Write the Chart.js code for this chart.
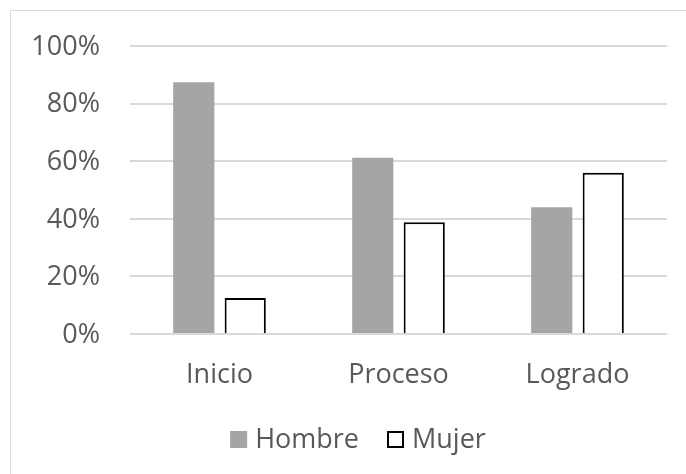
<!DOCTYPE html>
<html>
<head>
<meta charset="utf-8">
<script src="https://cdn.jsdelivr.net/npm/chart.js@4/dist/chart.umd.min.js"></script>
<style>
  html, body { margin: 0; padding: 0; background: #ffffff; overflow: hidden; }
  #frame {
    position: absolute; left: 10px; top: 10px; width: 720px; height: 520px;
    border: 1.5px solid #d9d9d9; box-sizing: border-box;
  }
  #wrap { position: absolute; left: 0; top: 0; width: 686px; height: 474px; }
</style>
</head>
<body>
<div id="frame"></div>
<div id="wrap"><canvas id="c" width="686" height="474"></canvas></div>
<script>
const categories = ["Inicio", "Proceso", "Logrado"];
const hombre = [87.5, 61.2, 44.0];
const mujer = [12.5, 38.8, 56.0];
const yTicks = [0, 20, 40, 60, 80, 100];

const textColor = "#595959";
const fontFamily = "'Open Sans', 'Noto Sans', sans-serif";
const fontSize = 27;

// Legend drawn below the plot: square swatch followed by the series name
const legendPlugin = {
  id: "swatchLegend",
  afterDraw(chart) {
    const ctx = chart.ctx;
    const box = 17, gapText = 8, gapItem = 28;
    const centerX = 358, boxTop = 431, baseline = 448;
    ctx.save();
    ctx.font = `${fontSize}px ${fontFamily}`;
    const items = chart.data.datasets.map(ds => ({
      ds, w: ctx.measureText(ds.label).width
    }));
    const total = items.reduce((s, it) => s + box + gapText + it.w, 0) + gapItem * (items.length - 1);
    let x = centerX - total / 2;
    items.forEach(({ ds, w }) => {
      ctx.fillStyle = ds.backgroundColor;
      ctx.fillRect(x, boxTop, box, box);
      if (ds.borderWidth > 0) {
        ctx.strokeStyle = ds.borderColor;
        ctx.lineWidth = 2;
        ctx.strokeRect(x + 1, boxTop + 1, box - 2, box - 2);
      }
      ctx.fillStyle = textColor;
      ctx.textBaseline = "alphabetic";
      ctx.textAlign = "left";
      ctx.fillText(ds.label, x + box + gapText, baseline);
      x += box + gapText + w + gapItem;
    });
    ctx.restore();
  }
};

new Chart(document.getElementById("c"), {
  type: "bar",
  data: {
    labels: categories,
    datasets: [
      {
        label: "Hombre",
        data: hombre,
        backgroundColor: "#a5a5a5",
        borderColor: "#a5a5a5",
        borderWidth: 0
      },
      {
        label: "Mujer",
        data: mujer,
        backgroundColor: "#ffffff",
        borderColor: "#000000",
        borderWidth: 2
      }
    ]
  },
  plugins: [legendPlugin],
  options: {
    responsive: false,
    animation: false,
    devicePixelRatio: 1,
    layout: { padding: { left: 0, right: 19, top: 43, bottom: 0 } },
    datasets: { bar: { categoryPercentage: 0.575, barPercentage: 0.8 } },
    scales: {
      x: {
        afterFit: (scale) => { scale.height = 140; },
        grid: { display: false },
        border: { display: false },
        ticks: { color: textColor, font: { family: fontFamily, size: fontSize }, padding: 17 }
      },
      y: {
        min: 0, max: 100,
        afterFit: (scale) => { scale.width = 130; },
        afterBuildTicks: (axis) => { axis.ticks = yTicks.map(v => ({ value: v })); },
        grid: { color: "#d9d9d9", lineWidth: 2, drawTicks: false },
        border: { display: false },
        ticks: {
          color: textColor, font: { family: fontFamily, size: fontSize }, padding: 30,
          labelOffset: 1,
          callback: (v) => v + "%"
        }
      }
    },
    plugins: {
      tooltip: { enabled: false },
      legend: { display: false }
    }
  }
});
</script>
</body>
</html>
